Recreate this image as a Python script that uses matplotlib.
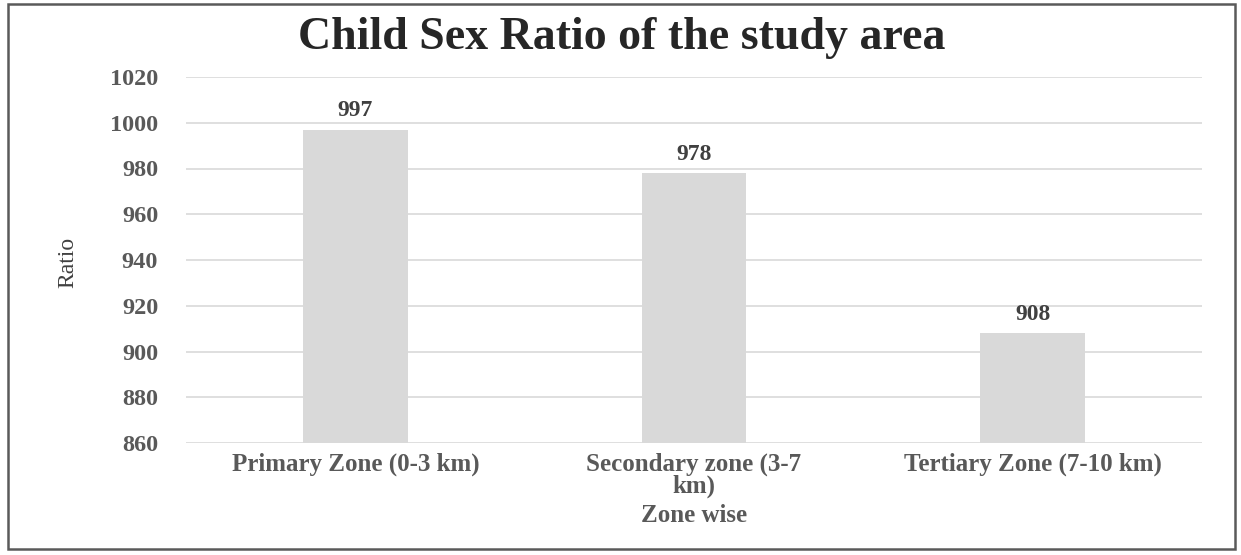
#!/usr/bin/env python3

import matplotlib
matplotlib.use('Agg')
import matplotlib.pyplot as plt
from matplotlib.patches import Rectangle

zones = [
        'Primary Zone (0-3 km)',
        'Secondary zone (3-7\nkm)',
        'Tertiary Zone (7-10 km)'
        ]
ratio = [997, 978, 908]
yticks = [860, 880, 900, 920, 940, 960, 980, 1000, 1020]

plt.rcParams['font.family'] = ['Liberation Serif', 'DejaVu Serif']

W, H = 1241, 555
fig = plt.figure(figsize=(W/100, H/100), dpi=100)
fig.patch.set_facecolor('white')

# chart frame
fig.add_artist(Rectangle((8/W, 1-549/H), (1235-8)/W, (549-4)/H,
                         transform=fig.transFigure, fill=False,
                         edgecolor='#5a5a5a', linewidth=1.8))

ax = fig.add_axes([186/W, 1-443/H, (1202-186)/W, (443-77)/H])
x = range(len(zones))
bars = ax.bar(x, ratio, width=0.31, color='#d9d9d9', zorder=2)
ax.set_ylim(860, 1020)
ax.set_xlim(-0.5, 2.5)
ax.set_yticks(yticks)
ax.set_yticklabels([str(v) for v in yticks], fontsize=17.5, fontweight='bold',
                   color='#595959')
ax.set_xticks(list(x))
ax.set_xticklabels(zones, fontsize=18, fontweight='bold', color='#595959',
                   linespacing=0.9)
ax.tick_params(axis='y', length=0, pad=20)
ax.tick_params(axis='x', length=0, pad=7)
for s in ax.spines.values():
    s.set_visible(False)
ax.grid(True, axis='y', color='#d9d9d9', linewidth=1.2, zorder=0)

for b, v in zip(bars, ratio):
    ax.annotate(str(v), (b.get_x() + b.get_width()/2, v),
                xytext=(0, 6), textcoords='offset points',
                ha='center', va='bottom', fontsize=17, fontweight='bold',
                color='#404040')

fig.text(622/W, 1-38/H, 'Child Sex Ratio of the study area',
         ha='center', va='center', fontsize=33, fontweight='bold',
         color='#262626')
fig.text(68/W, 1-262/H, 'Ratio', ha='center', va='center', rotation=90,
         fontsize=17, color='#404040')
fig.text(694/W, 1-515/H, 'Zone wise', ha='center', va='center',
         fontsize=18, fontweight='bold', color='#595959')

plt.savefig('out.png', dpi=100)
